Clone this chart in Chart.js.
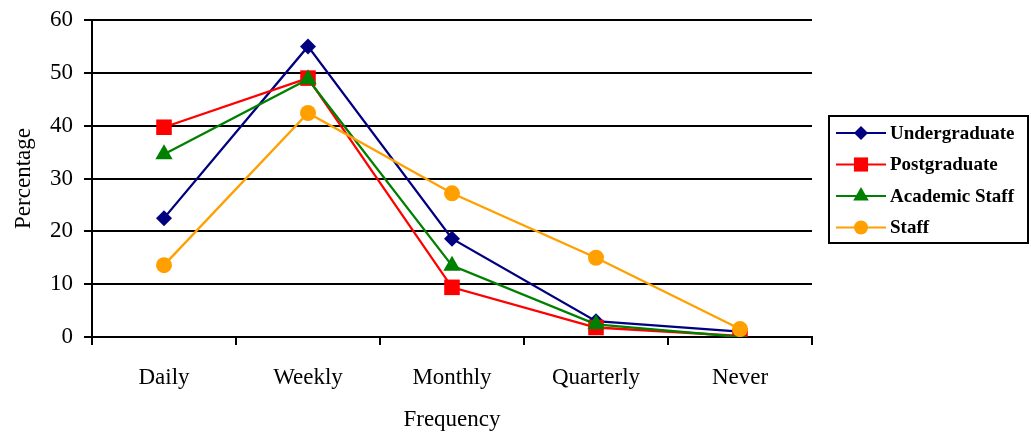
<!DOCTYPE html>
<html>
<head>
<meta charset="utf-8">
<script src="https://cdn.jsdelivr.net/npm/chart.js@4/dist/chart.umd.min.js"></script>
<style>
  html, body { margin: 0; padding: 0; background: #fff; }
  #wrap { width: 1031px; height: 438px; }
</style>
</head>
<body>
<div id="wrap"><canvas id="freqChart" width="1031" height="438"></canvas></div>
<script>
// ===== data =====
const categories = ['Daily', 'Weekly', 'Monthly', 'Quarterly', 'Never'];
const undergraduate = [22.5, 55, 18.6, 3, 1];
const postgraduate = [39.7, 49, 9.4, 1.8, 0.2];
const academicStaff = [34.6, 48.8, 13.5, 2.4, 0];
const staff = [13.6, 42.4, 27.2, 15, 1.5];
const yTicks = [0, 10, 20, 30, 40, 50, 60];

const SERIF = '"Liberation Serif", "Times New Roman", serif';

const series = [
  { label: 'Undergraduate', data: undergraduate, color: '#000080', style: 'rectRot', r: 8 },
  { label: 'Postgraduate', data: postgraduate, color: '#ff0000', style: 'rect', r: 11 },
  { label: 'Academic Staff', data: academicStaff, color: '#008000', style: 'triangle', r: 10 },
  { label: 'Staff', data: staff, color: '#ffa000', style: 'circle', r: 8 }
];

// boxed legend on the right, line + marker like the original
const boxLegend = {
  id: 'boxLegend',
  afterDraw(chart) {
    const c = chart.ctx;
    const x0 = 829, y0 = 116, w = 199, h = 127;
    c.save();
    c.strokeStyle = '#000';
    c.lineWidth = 2;
    c.strokeRect(x0, y0, w, h);
    c.font = 'bold 19px ' + SERIF;
    c.textBaseline = 'middle';
    c.textAlign = 'left';
    series.forEach((s, i) => {
      const y = 133 + i * 31.5;
      c.strokeStyle = s.color;
      c.lineWidth = 2;
      c.beginPath();
      c.moveTo(836, y);
      c.lineTo(886, y);
      c.stroke();
      c.fillStyle = s.color;
      Chart.helpers.drawPoint(c, { pointStyle: s.style, radius: s.r - 1, borderWidth: 0 }, 861, y);
      c.fillStyle = '#000';
      c.fillText(s.label, 890, y + 1);
    });
    c.restore();
  }
};

new Chart(document.getElementById('freqChart'), {
  type: 'line',
  data: {
    labels: categories,
    datasets: series.map((s, i) => ({
      label: s.label,
      data: s.data,
      borderColor: s.color,
      backgroundColor: s.color,
      borderWidth: 2.3,
      pointStyle: s.style,
      pointRadius: s.r,
      pointBorderWidth: 0,
      tension: 0,
      order: series.length - i
    }))
  },
  options: {
    responsive: false,
    animation: false,
    layout: { padding: { top: 20, right: 219, left: 6, bottom: 0 } },
    plugins: { legend: { display: false }, tooltip: { enabled: false } },
    scales: {
      x: {
        offset: true,
        grid: { display: true, drawOnChartArea: false, offset: true, color: '#000', lineWidth: 2, tickLength: 8 },
        border: { display: true, color: '#000', width: 2 },
        ticks: { color: '#000', font: { family: SERIF, size: 23 }, padding: 19 },
        title: { display: true, text: 'Frequency', color: '#000', font: { family: SERIF, size: 23 }, padding: { top: 18 } },
        afterFit: scale => { scale.height = 101; }
      },
      y: {
        min: 0,
        max: 60,
        afterBuildTicks: scale => { scale.ticks = yTicks.map(v => ({ value: v })); },
        grid: { color: '#000', lineWidth: 2, tickLength: 8 },
        border: { display: true, color: '#000', width: 2 },
        ticks: { color: '#000', font: { family: SERIF, size: 23 }, padding: 11 },
        title: { display: true, text: 'Percentage', color: '#000', font: { family: SERIF, size: 23 }, padding: { bottom: 4 } },
        afterFit: scale => { scale.width = 86; scale.paddingTop = 0; scale.paddingBottom = 0; }
      }
    }
  },
  plugins: [boxLegend]
});
</script>
</body>
</html>
